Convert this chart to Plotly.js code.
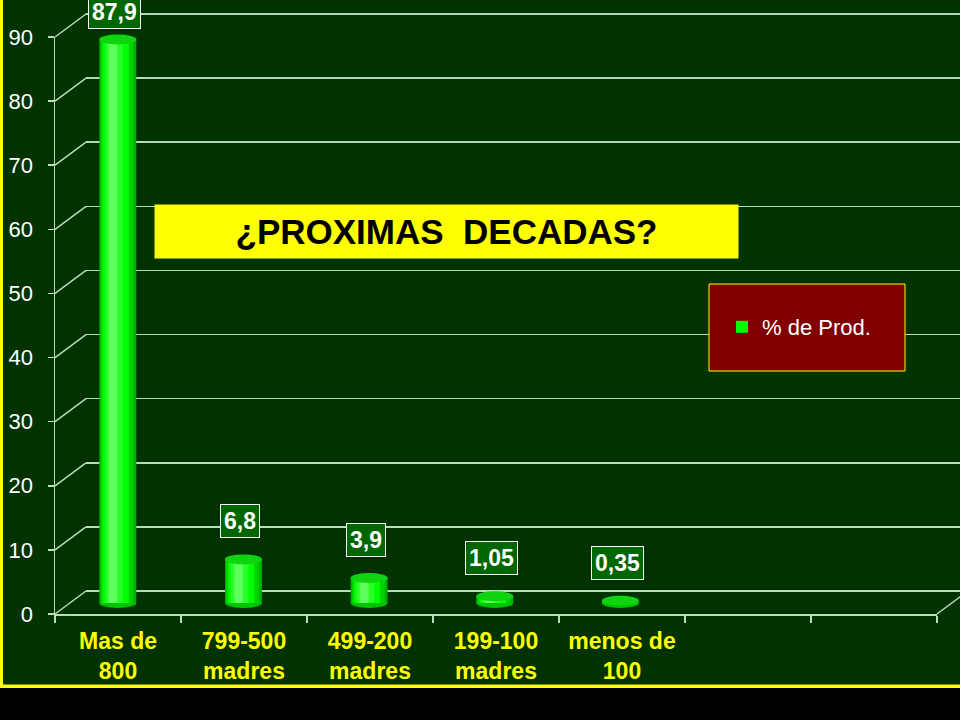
<!DOCTYPE html>
<html>
<head>
<meta charset="utf-8">
<script src="https://cdn.plot.ly/plotly-3.0.1.min.js"></script>
<style>
  html, body { margin: 0; padding: 0; background: #000; }
  #chart { width: 960px; height: 720px; }
</style>
</head>
<body>
<div id="chart"></div>
<script>
  // Production share by herd size (values as printed on the slide).
  const categories = ["Mas de<br>800", "799-500<br>madres", "499-200<br>madres",
                      "199-100<br>madres", "menos de<br>100", "vacio 1", "vacio 2"];
  const tickLabels = ["Mas de<br>800", "799-500<br>madres", "499-200<br>madres",
                      "199-100<br>madres", "menos de<br>100", "", ""];
  const shares = [87.9, 6.8, 3.9, 1.05, 0.35];
  const shareLabels = ["87,9", "6,8", "3,9", "1,05", "0,35"];
  const yTicks = [0, 10, 20, 30, 40, 50, 60, 70, 80, 90];

  const W = 960, H = 720;
  const M = { l: 55, r: 0, t: 8, b: 70 };
  const PW = W - M.l - M.r, PH = H - M.t - M.b;
  const px = (x) => (x - M.l) / PW;        // pixel -> paper
  const py = (y) => (H - M.b - y) / PH;

  // Fake 3D: front plane, a back wall pushed up/right, bars in between.
  const FRONT = { x0: 55, x1: 937, y0: 614, y1: 37 };
  const DEPTH = { dx: 31, dy: 23 };
  const BAR = { dx: -2.5, dy: 11 };
  const Y_MAX = 90;
  const UNIT = (FRONT.y0 - FRONT.y1) / Y_MAX;   // px per percentage point
  const FLOOR = 5;                               // room under 0 for bottom ellipses
  const PAD = 0.3;                               // keeps edge gridlines (0 and 90) drawn
  const HALF_W = 0.147;                          // cylinder half width, in categories
  const ELL = 5 / UNIT;                          // ellipse half height, in units

  const BG = "#003300";
  const LINE = "#b8dcb8";
  const FONT = "Liberation Sans, Arial, sans-serif";

  const barCats = categories.slice(0, shares.length);

  function layerTrace(color, width, offset, legend) {
    return {
      type: "bar", x: barCats, y: shares, xaxis: "x2", yaxis: "y2",
      width: width, offset: offset, name: "% de Prod.",
      marker: { color: color, line: { width: 0 } },
      showlegend: legend, hoverinfo: "skip",
    };
  }

  const traces = [
    // keeps the back-wall subplot alive (drawn first, so grid sits under bars)
    { type: "scatter", x: [0.5], y: [0], mode: "markers", marker: { opacity: 0 },
      showlegend: false, hoverinfo: "skip" },
    layerTrace("#00b000", 2 * HALF_W, -HALF_W, false),
    layerTrace("#00d000", 0.262, -0.138, false),
    layerTrace("#00ff00", 0.21, -0.122, true),
    layerTrace("#28ff28", 0.14, -0.1, false),
    layerTrace("#5cff5c", 0.07, -0.075, false),
    { type: "scatter", x: categories, y: categories.map(() => 0), xaxis: "x3", yaxis: "y3",
      mode: "markers", marker: { opacity: 0 }, showlegend: false, hoverinfo: "skip" },
  ];

  const shapes = [];

  // depth connectors from the front scale to the back wall
  yTicks.forEach(function (v) {
    shapes.push({
      type: "line", xref: "paper", yref: "paper",
      x0: px(FRONT.x0), y0: py(FRONT.y0 - v * UNIT),
      x1: px(FRONT.x0 + DEPTH.dx), y1: py(FRONT.y0 - DEPTH.dy - v * UNIT),
      line: { color: LINE, width: 1.5 },
    });
  });
  shapes.push({
    type: "line", xref: "paper", yref: "paper",
    x0: px(FRONT.x1), y0: py(FRONT.y0),
    x1: px(FRONT.x1 + DEPTH.dx), y1: py(FRONT.y0 - DEPTH.dy),
    line: { color: LINE, width: 1.5 },
  });

  // cylinder caps
  shares.forEach(function (v, i) {
    shapes.push({
      type: "circle", xref: "x2", yref: "y2", layer: "below",
      x0: i - HALF_W, x1: i + HALF_W, y0: -ELL, y1: ELL,
      fillcolor: "#00c400", line: { width: 0 },
    });
    shapes.push({
      type: "circle", xref: "x2", yref: "y2",
      x0: i - HALF_W, x1: i + HALF_W, y0: v - ELL, y1: v + ELL,
      fillcolor: "#10d410", line: { width: 0 },
    });
  });

  // legend box
  shapes.push({
    type: "rect", xref: "paper", yref: "paper",
    x0: px(709), x1: px(905), y0: py(371), y1: py(284),
    fillcolor: "#800000", line: { color: "#ffff00", width: 1 },
  });

  // slide frame: yellow border, black strip underneath
  shapes.push({ type: "rect", xref: "paper", yref: "paper",
    x0: px(0), x1: px(W), y0: py(H), y1: py(688), fillcolor: "#000", line: { width: 0 } });
  shapes.push({ type: "rect", xref: "paper", yref: "paper",
    x0: px(0), x1: px(W), y0: py(688), y1: py(684.5), fillcolor: "#ffff00", line: { width: 0 } });
  shapes.push({ type: "rect", xref: "paper", yref: "paper",
    x0: px(0), x1: px(3), y0: py(688), y1: py(0), fillcolor: "#ffff00", line: { width: 0 } });

  const annotations = shares.map(function (v, i) {
    const topPx = FRONT.y0 - BAR.dy - v * UNIT;
    return {
      xref: "x2", yref: "y2", x: barCats[i], y: v,
      text: shareLabels[i], showarrow: false,
      yanchor: "middle", yshift: Math.min(38, topPx - 12), xshift: -3,
      font: { family: FONT, size: 23, color: "#fff", weight: "bold" },
      bgcolor: "#006600", bordercolor: "#fff", borderwidth: 1, borderpad: 3,
    };
  });

  annotations.push({
    xref: "paper", yref: "paper", x: px(446.5), y: py(231.5),
    xanchor: "center", yanchor: "middle", showarrow: false,
    text: "¿PROXIMAS\u00a0 DECADAS?", width: 583, height: 53,
    bgcolor: "#ffff00", borderpad: 0,
    font: { family: FONT, size: 35, color: "#000", weight: "bold" },
  });

  const layout = {
    width: W, height: H,
    margin: M,
    paper_bgcolor: BG, plot_bgcolor: "rgba(0,0,0,0)",
    barmode: "overlay",
    font: { family: FONT },
    hovermode: false,
    // back wall
    xaxis: { domain: [px(FRONT.x0 + DEPTH.dx), 1], range: [0, 1], visible: false, anchor: "y" },
    yaxis: {
      domain: [py(FRONT.y0 - DEPTH.dy + PAD * UNIT), py(FRONT.y1 - DEPTH.dy - PAD * UNIT)],
      range: [-PAD, Y_MAX + PAD],
      tickmode: "array", tickvals: yTicks, showticklabels: false, ticks: "",
      showgrid: true, gridcolor: LINE, gridwidth: 1.5, zeroline: false, showline: false,
      anchor: "x",
    },
    // bars, halfway into the depth
    xaxis2: {
      domain: [px(FRONT.x0 + BAR.dx), px(FRONT.x1 + BAR.dx)],
      type: "category", categoryorder: "array", categoryarray: categories,
      range: [-0.5, categories.length - 0.5], visible: false, anchor: "y2",
    },
    yaxis2: {
      domain: [py(FRONT.y0 - BAR.dy + FLOOR * UNIT), py(FRONT.y1 - BAR.dy)],
      range: [-FLOOR, Y_MAX], visible: false, anchor: "x2",
    },
    // front plane with the readable axes
    xaxis3: {
      domain: [px(FRONT.x0), px(FRONT.x1)],
      type: "category", categoryorder: "array", categoryarray: categories,
      range: [-0.5, categories.length - 0.5],
      tickmode: "array", tickvals: categories, ticktext: tickLabels,
      tickson: "boundaries", ticks: "outside", ticklen: 7, tickwidth: 1.5, tickcolor: LINE,
      showline: true, linecolor: LINE, linewidth: 1.5, showgrid: false, zeroline: false,
      tickfont: { family: FONT, size: 23, color: "#ffff00", weight: "bold" },
      ticklabelstandoff: 6,
      anchor: "y3",
    },
    yaxis3: {
      domain: [py(FRONT.y0), py(FRONT.y1)], range: [0, Y_MAX],
      tickmode: "array", tickvals: yTicks,
      ticks: "outside", ticklen: 6, tickwidth: 1.5, tickcolor: LINE,
      showline: true, linecolor: LINE, linewidth: 1.5, showgrid: false, zeroline: false,
      tickfont: { family: FONT, size: 22, color: "#fff" }, ticklabelstandoff: 10,
      anchor: "x3",
    },
    legend: {
      x: px(722), y: py(327), xanchor: "left", yanchor: "middle",
      bgcolor: "rgba(0,0,0,0)", borderwidth: 0,
      font: { family: FONT, size: 22, color: "#fff" },
    },
    shapes: shapes,
    annotations: annotations,
  };

  Plotly.newPlot("chart", traces, layout, { displayModeBar: false, staticPlot: true });
</script>
</body>
</html>
